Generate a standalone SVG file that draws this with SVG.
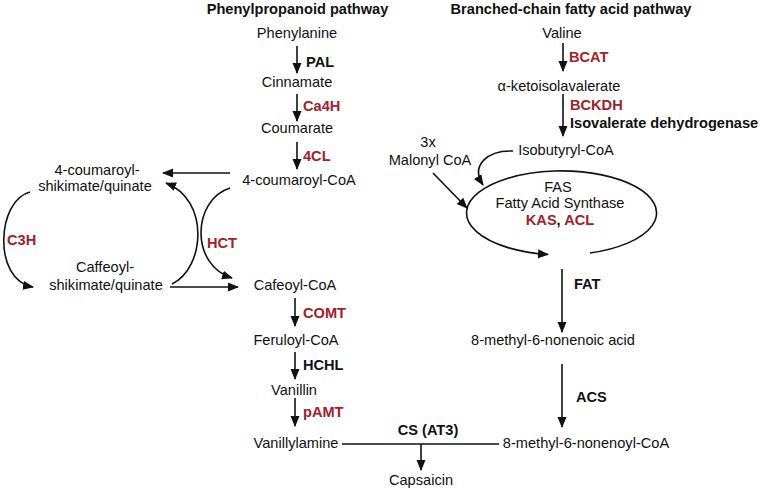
<svg xmlns="http://www.w3.org/2000/svg" width="763" height="489" viewBox="0 0 763 489">
<style>
text{font-family:"Liberation Sans",Arial,sans-serif;font-size:14.6px;fill:#111}
.b{font-weight:bold}
.r{fill:#a3212b;font-weight:bold}
.m{text-anchor:middle}
.ln{stroke:#111;stroke-width:1.6;fill:none}
.ar{marker-end:url(#ah)}
</style>
<defs>
<marker id="ah" markerUnits="userSpaceOnUse" markerWidth="11" markerHeight="10" refX="10" refY="4.5" orient="auto">
<path d="M0,0 L11,4.5 L0,9 z" fill="#111"/>
</marker>
</defs>
<rect width="763" height="489" fill="#fff"/>
<g id="titles">
<text class="b m" x="297.5" y="14">Phenylpropanoid pathway</text>
<text class="b m" x="571" y="14">Branched-chain fatty acid pathway</text>
</g>
<g id="connectors">
<line class="ln ar" x1="297" y1="46" x2="297" y2="73"/>
<line class="ln ar" x1="297" y1="94" x2="297" y2="121"/>
<line class="ln ar" x1="297" y1="142" x2="297" y2="169"/>
<line class="ln ar" x1="230" y1="173" x2="163" y2="173"/>
<line class="ln ar" x1="170" y1="287" x2="238" y2="287"/>
<path class="ln ar" d="M30,192 C-3,200 -8,280 33,287"/>
<path class="ln ar" d="M172,284 C205,268 210,200 166,183"/>
<path class="ln ar" d="M230,188 C192,200 190,265 232,278"/>
<line class="ln ar" x1="295" y1="298" x2="295" y2="326"/>
<line class="ln ar" x1="295" y1="352" x2="295" y2="379"/>
<line class="ln ar" x1="295" y1="398" x2="295" y2="426"/>
<line class="ln" x1="342" y1="444" x2="499" y2="444"/>
<line class="ln ar" x1="421" y1="444" x2="421" y2="470"/>
<line class="ln ar" x1="563" y1="43" x2="563" y2="71"/>
<line class="ln ar" x1="563" y1="94" x2="563" y2="136"/>
<path class="ln ar" d="M513,151 C488,150 470,165 483,185"/>
<line class="ln ar" x1="433" y1="173" x2="467" y2="208"/>
<path class="ln ar" d="M590,253 A95,42 0 1 0 548,254.5"/>
<line class="ln ar" x1="562" y1="269" x2="562" y2="332"/>
<line class="ln ar" x1="562" y1="364" x2="562" y2="427"/>
</g>
<g id="n-phenylalanine"><text class="m" x="297" y="38">Phenylanine</text></g>
<g id="e-pal"><text class="b" x="306" y="67">PAL</text></g>
<g id="n-cinnamate"><text class="m" x="297" y="87">Cinnamate</text></g>
<g id="e-ca4h"><text class="r" x="303" y="111">Ca4H</text></g>
<g id="n-coumarate"><text class="m" x="297" y="133">Coumarate</text></g>
<g id="e-4cl"><text class="r" x="303" y="161">4CL</text></g>
<g id="n-coumaroylcoa"><text class="m" x="299" y="185">4-coumaroyl-CoA</text></g>
<g id="n-coumaroylshik"><text class="m" x="97" y="175">4-coumaroyl-</text><text class="m" x="95" y="191">shikimate/quinate</text></g>
<g id="n-caffeoylshik"><text class="m" x="105" y="272">Caffeoyl-</text><text class="m" x="106" y="290">shikimate/quinate</text></g>
<g id="e-c3h"><text class="r" x="7" y="245">C3H</text></g>
<g id="e-hct"><text class="r" x="207" y="248">HCT</text></g>
<g id="n-cafeoylcoa"><text class="m" x="295" y="290">Cafeoyl-CoA</text></g>
<g id="e-comt"><text class="r" x="303" y="318">COMT</text></g>
<g id="n-feruloylcoa"><text class="m" x="296" y="345">Feruloyl-CoA</text></g>
<g id="e-hchl"><text class="b" x="303" y="370">HCHL</text></g>
<g id="n-vanillin"><text class="m" x="294" y="395">Vanillin</text></g>
<g id="e-pamt"><text class="r" x="303" y="417">pAMT</text></g>
<g id="n-vanillylamine"><text class="m" x="296" y="448">Vanillylamine</text></g>
<g id="e-cs"><text class="b m" x="428" y="435">CS (AT3)</text></g>
<g id="n-capsaicin"><text class="m" x="421" y="485">Capsaicin</text></g>
<g id="n-valine"><text class="m" x="562" y="38">Valine</text></g>
<g id="e-bcat"><text class="r" x="569" y="62">BCAT</text></g>
<g id="n-ketoiso"><text class="m" x="559" y="91">α-ketoisolavalerate</text></g>
<g id="e-bckdh"><text class="r" x="570" y="110">BCKDH</text><text class="b" x="570" y="128">Isovalerate dehydrogenase</text></g>
<g id="n-isobutyryl"><text class="m" x="566" y="155">Isobutyryl-CoA</text></g>
<g id="n-malonyl"><text class="m" x="428" y="147">3x</text><text class="m" x="430" y="165">Malonyl CoA</text></g>
<g id="n-fas"><text class="m" x="558" y="192">FAS</text><text class="m" x="560" y="208">Fatty Acid Synthase</text><text class="b m" x="560" y="225"><tspan class="r">KAS</tspan>, <tspan class="r">ACL</tspan></text></g>
<g id="e-fat"><text class="b" x="574" y="289">FAT</text></g>
<g id="n-nonenoic"><text class="m" x="553" y="345">8-methyl-6-nonenoic acid</text></g>
<g id="e-acs"><text class="b" x="576" y="402">ACS</text></g>
<g id="n-nonenoylcoa"><text class="m" x="586" y="448">8-methyl-6-nonenoyl-CoA</text></g>
</svg>
